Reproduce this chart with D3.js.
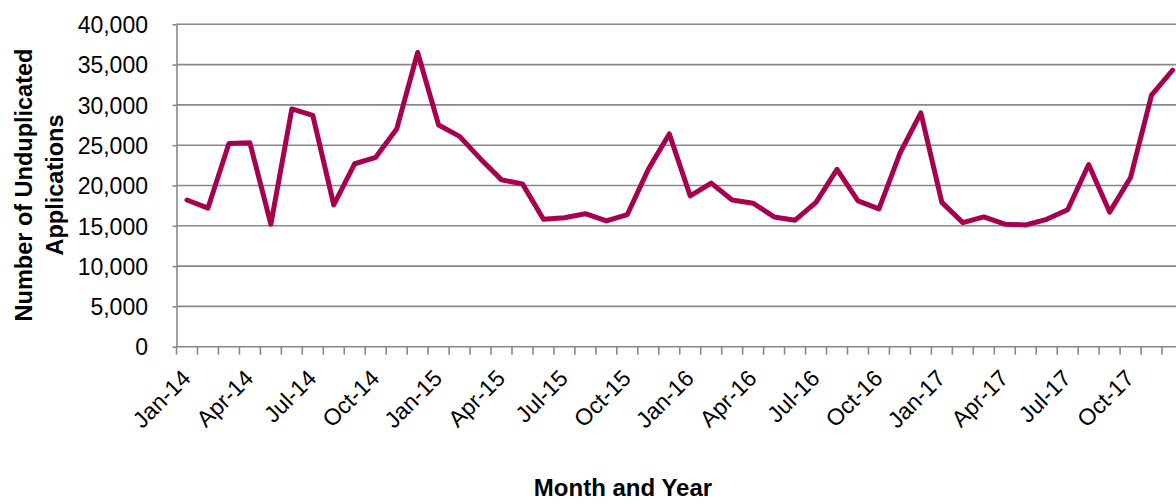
<!DOCTYPE html>
<html>
<head>
<meta charset="utf-8">
<script src="https://cdn.jsdelivr.net/npm/d3@7"></script>
<style>
  body { margin: 0; background: #fff; }
  svg { display: block; font-family: "Liberation Sans", Arial, sans-serif; }
</style>
</head>
<body>
<svg id="chart"></svg>
<script>
const width = 1176;
const height = 504;

// Months, Jan-14 through Dec-17
const months = [
  "Jan-14", "Feb-14", "Mar-14", "Apr-14", "May-14", "Jun-14", "Jul-14", "Aug-14", "Sep-14", "Oct-14", "Nov-14", "Dec-14",
  "Jan-15", "Feb-15", "Mar-15", "Apr-15", "May-15", "Jun-15", "Jul-15", "Aug-15", "Sep-15", "Oct-15", "Nov-15", "Dec-15",
  "Jan-16", "Feb-16", "Mar-16", "Apr-16", "May-16", "Jun-16", "Jul-16", "Aug-16", "Sep-16", "Oct-16", "Nov-16", "Dec-16",
  "Jan-17", "Feb-17", "Mar-17", "Apr-17", "May-17", "Jun-17", "Jul-17", "Aug-17", "Sep-17", "Oct-17", "Nov-17", "Dec-17"
];

// Number of unduplicated applications per month
const applications = [
  18200, 17200, 25200, 25300, 15200, 29500, 28700, 17600, 22700, 23500, 27000, 36500,
  27500, 26100, 23300, 20700, 20200, 15800, 16000, 16500, 15600, 16400, 22000, 26400,
  18700, 20300, 18200, 17800, 16100, 15700, 17900, 22000, 18100, 17100, 24000, 29000,
  17900, 15400, 16100, 15200, 15100, 15800, 17000, 22600, 16700, 21000, 31200, 34300
];

// only every third month gets a label
const tickLabels = months.filter((m, i) => i % 3 === 0);
const yTicks = [0, 5000, 10000, 15000, 20000, 25000, 30000, 35000, 40000];

const margin = { top: 24.3, left: 176.5, bottom: 157.3 };
const plotRight = 1183;

const svg = d3.select("#chart")
    .attr("width", width)
    .attr("height", height);

const x = d3.scaleBand()
    .domain(months)
    .range([margin.left, plotRight]);

const y = d3.scaleLinear()
    .domain([0, 40000])
    .range([height - margin.bottom, margin.top]);

const gridColor = "#888888";
const fmt = d3.format(",");

// horizontal gridlines
svg.append("g")
    .selectAll("line")
    .data(yTicks.slice(1))
    .join("line")
    .attr("x1", margin.left)
    .attr("x2", plotRight)
    .attr("y1", d => y(d))
    .attr("y2", d => y(d))
    .attr("stroke", gridColor)
    .attr("stroke-width", 1.6);

// y axis
const yAxis = svg.append("g")
    .attr("transform", `translate(${margin.left},0)`)
    .call(d3.axisLeft(y).tickValues(yTicks).tickFormat(fmt).tickSize(4).tickSizeOuter(0));
yAxis.select(".domain").attr("stroke", gridColor).attr("stroke-width", 1.6);
yAxis.selectAll(".tick line").attr("stroke", gridColor).attr("stroke-width", 1.6);
yAxis.selectAll(".tick text")
    .attr("x", -28.5)
    .attr("dy", "0.36em")
    .style("font-size", "23px")
    .attr("fill", "#000");

// x axis: ticks sit on the band boundaries
const xAxisG = svg.append("g")
    .attr("transform", `translate(0,${y(0)})`);
xAxisG.append("line")
    .attr("x1", margin.left)
    .attr("x2", plotRight)
    .attr("stroke", gridColor)
    .attr("stroke-width", 1.6);
xAxisG.selectAll("line.tick")
    .data(months.concat([null]))
    .join("line")
    .attr("class", "tick")
    .attr("x1", (d, i) => margin.left + i * x.step())
    .attr("x2", (d, i) => margin.left + i * x.step())
    .attr("y1", 0)
    .attr("y2", 8)
    .attr("stroke", gridColor)
    .attr("stroke-width", 1.6);
xAxisG.selectAll("text")
    .data(tickLabels)
    .join("text")
    .attr("text-anchor", "end")
    .attr("transform", d => `translate(${x(d) + x.bandwidth() / 2 + 5},${33}) rotate(-45)`)
    .style("font-size", "23px")
    .attr("fill", "#000")
    .text(d => d);

// the series
const line = d3.line()
    .x((d, i) => x(months[i]) + x.bandwidth() / 2)
    .y(d => y(d));

svg.append("path")
    .datum(applications)
    .attr("fill", "none")
    .attr("stroke", "#A6004F")
    .attr("stroke-width", 5)
    .attr("stroke-linejoin", "round")
    .attr("stroke-linecap", "round")
    .attr("d", line);

// axis titles
const yTitle = svg.append("text")
    .attr("transform", "translate(0,185) rotate(-90)")
    .attr("text-anchor", "middle")
    .style("font-size", "23.5px")
    .style("font-weight", "bold")
    .attr("fill", "#000");
yTitle.append("tspan").attr("x", 0).attr("y", 32).text("Number of Unduplicated");
yTitle.append("tspan").attr("x", 0).attr("y", 63).text("Applications");

svg.append("text")
    .attr("x", 623)
    .attr("y", 496)
    .attr("text-anchor", "middle")
    .style("font-size", "24px")
    .style("font-weight", "bold")
    .attr("fill", "#000")
    .text("Month and Year");
</script>
</body>
</html>
